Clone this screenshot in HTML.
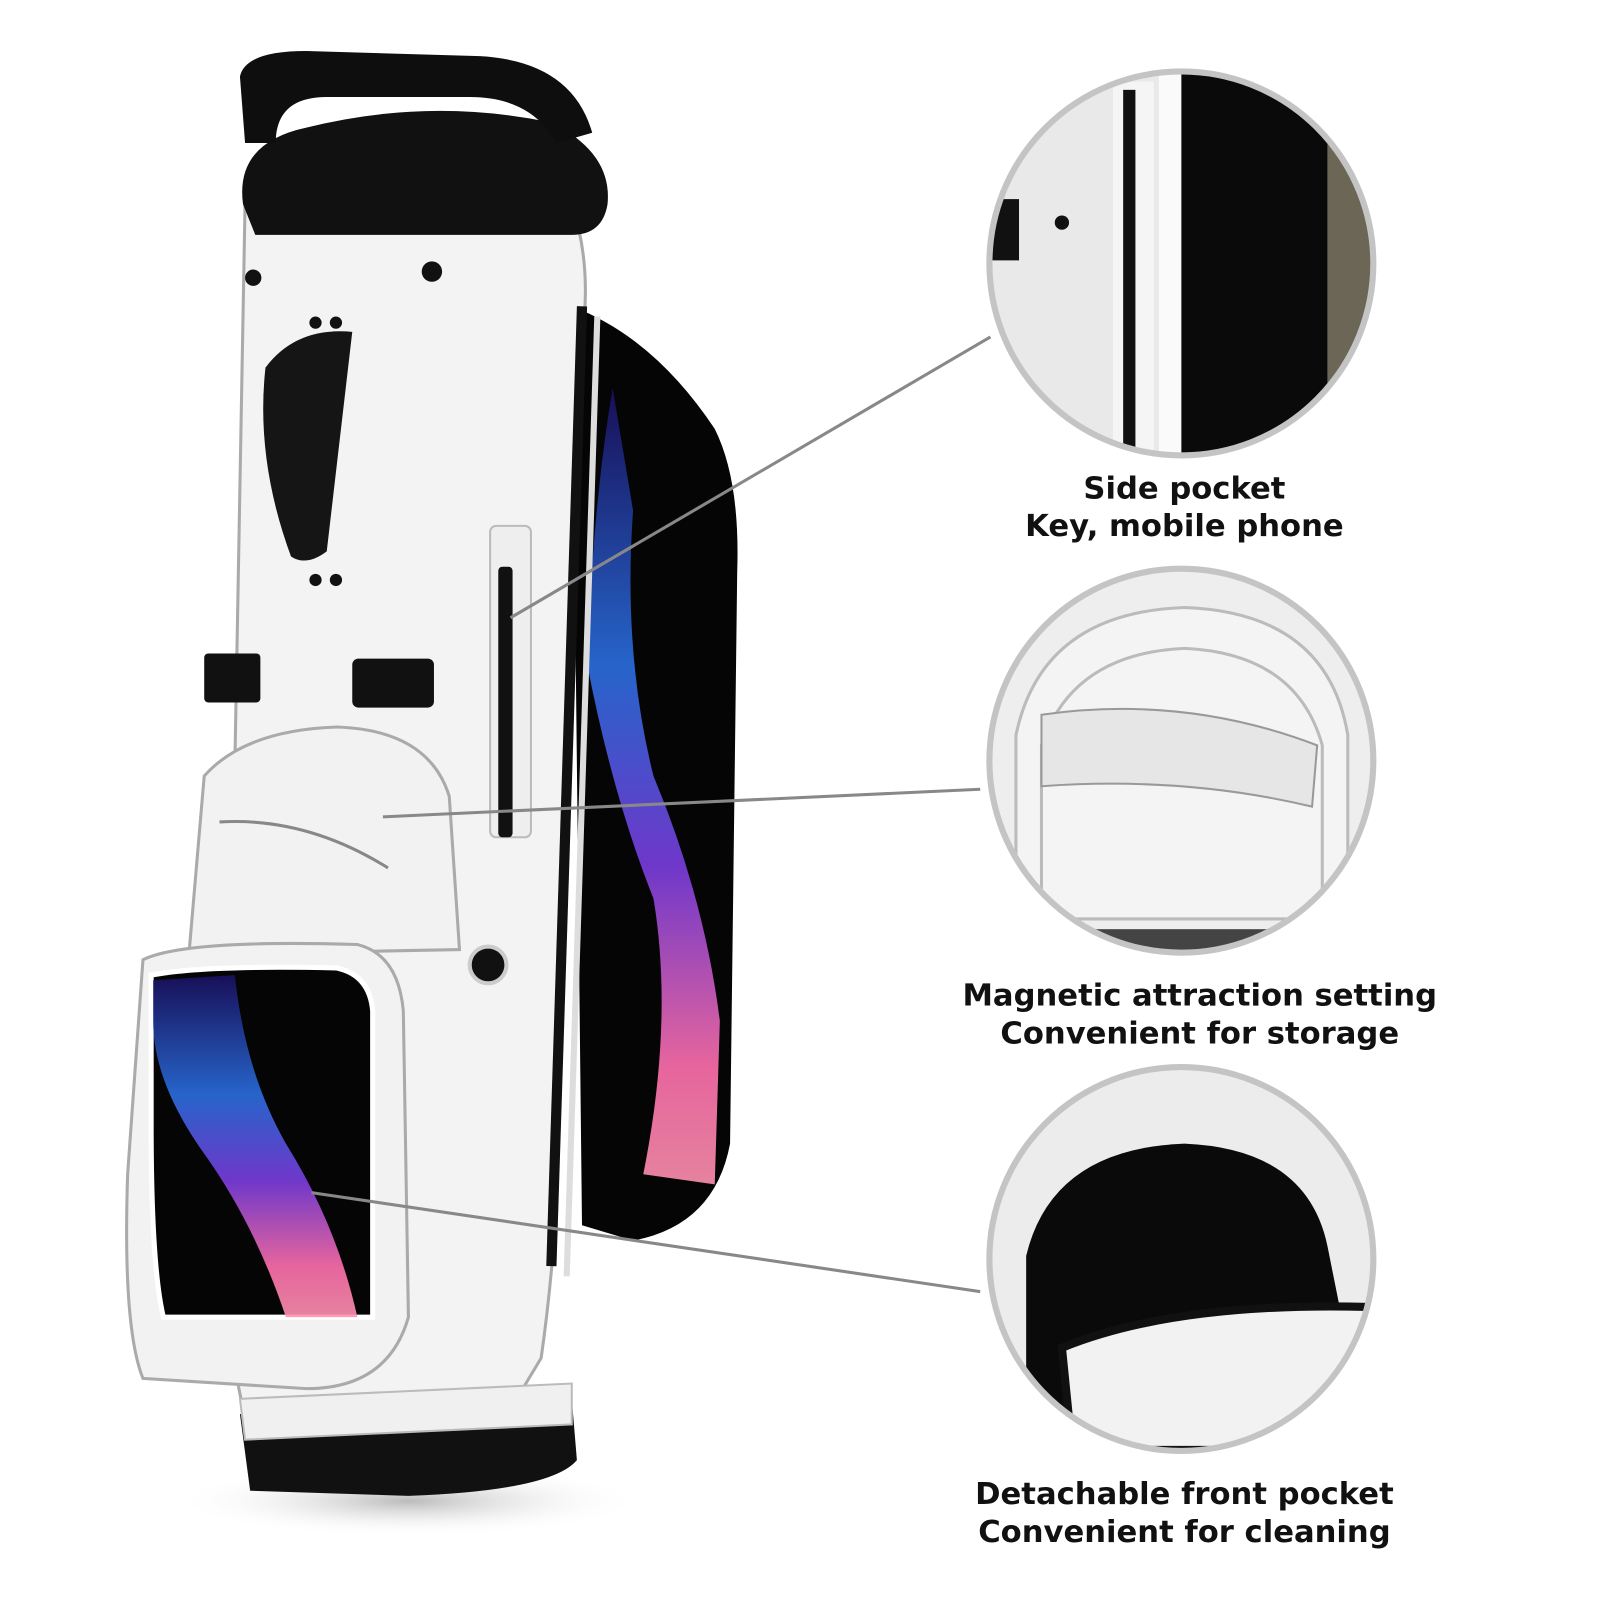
<!DOCTYPE html>
<html><head><meta charset="utf-8"><style>
html,body{margin:0;padding:0;background:#fff;}
svg{display:block}
text{font-family:"DejaVu Sans","Liberation Sans",sans-serif;font-weight:bold;font-size:30px;fill:#111;text-anchor:middle}
</style></head><body>
<svg width="1600" height="1600" viewBox="0 0 1567 1567" xmlns="http://www.w3.org/2000/svg">
<defs>
<linearGradient id="gal" x1="0" y1="0" x2="0" y2="1">
<stop offset="0" stop-color="#1a1060"/><stop offset="0.35" stop-color="#2a6fe0"/><stop offset="0.6" stop-color="#7a3de0"/><stop offset="0.85" stop-color="#ff6fae"/><stop offset="1" stop-color="#ff90b0"/></linearGradient>
<radialGradient id="shadow" cx="0.5" cy="0.5" r="0.5"><stop offset="0" stop-color="#bbb"/><stop offset="1" stop-color="#fff" stop-opacity="0"/></radialGradient>
<clipPath id="c1"><circle cx="1157" cy="258" r="188"/></clipPath>
<clipPath id="c2"><circle cx="1157" cy="745" r="188"/></clipPath>
<clipPath id="c3"><circle cx="1157" cy="1233" r="188"/></clipPath>
</defs>
<ellipse cx="400" cy="1470" rx="230" ry="35" fill="url(#shadow)"/>
<path d="M560 300 Q640 330 700 420 Q725 470 722 560 L715 1120 Q700 1200 620 1215 L570 1200 Z" fill="#050505"/>
<path d="M600 380 Q580 500 575 650 Q600 780 640 880 Q660 1000 630 1150 L700 1160 L705 1000 Q690 880 640 760 Q610 640 620 500 Z" fill="url(#gal)" opacity="0.9"/>
<path d="M240 200 L560 200 Q580 260 570 330 L545 1180 Q540 1260 530 1330 L500 1380 L240 1390 L230 1340 L200 1000 Q215 900 230 750 Z" fill="#f3f3f3" stroke="#aaa" stroke-width="3"/>
<path d="M570 300 L540 1240" stroke="#111" stroke-width="10" fill="none"/>
<path d="M585 310 L555 1250" stroke="#ddd" stroke-width="6" fill="none"/>
<path d="M238 200 Q230 140 300 125 Q420 95 540 120 Q600 150 595 200 Q590 230 560 230 L250 230 Z" fill="#111"/>
<path d="M235 75 Q240 50 300 50 L470 55 Q560 60 580 130 L545 140 Q520 95 460 95 L320 95 Q270 95 270 140 L240 140 Z" fill="#0e0e0e"/>
<path d="M260 360 Q290 320 345 325 L320 540 Q300 555 285 545 Q250 450 260 360 Z" fill="#151515"/>
<circle cx="423" cy="266" r="10" fill="#111"/><circle cx="248" cy="272" r="8" fill="#111"/>
<circle cx="309" cy="316" r="6" fill="#111"/><circle cx="329" cy="316" r="6" fill="#111"/>
<circle cx="309" cy="568" r="6" fill="#111"/><circle cx="329" cy="568" r="6" fill="#111"/>
<rect x="200" y="640" width="55" height="48" rx="4" fill="#111"/>
<rect x="345" y="645" width="80" height="48" rx="6" fill="#111"/>
<rect x="480" y="515" width="40" height="305" rx="6" fill="#eee" stroke="#bbb" stroke-width="2"/>
<rect x="488" y="555" width="14" height="265" rx="4" fill="#111"/>
<circle cx="478" cy="945" r="18" fill="#111" stroke="#ccc" stroke-width="4"/>
<path d="M200 760 Q240 715 330 712 Q420 715 440 780 L450 930 L185 935 Z" fill="#f2f2f2" stroke="#aaa" stroke-width="3"/>
<path d="M215 805 Q300 800 380 850" stroke="#888" stroke-width="3" fill="none"/>
<path d="M140 940 Q180 920 350 925 Q390 935 395 990 L400 1290 Q380 1360 300 1360 L140 1350 Q120 1300 125 1150 Z" fill="#f2f2f2" stroke="#aaa" stroke-width="3"/>
<path d="M148 955 Q200 945 330 948 Q362 955 365 990 L365 1290 L160 1290 Q148 1240 148 1100 Z" fill="#050505" stroke="#fff" stroke-width="5"/>
<path d="M150 960 L230 955 Q240 1050 280 1120 Q330 1200 350 1290 L280 1290 Q250 1200 200 1130 Q150 1060 150 1000 Z" fill="url(#gal)" opacity="0.9"/>
<path d="M235 1385 L560 1370 L565 1430 Q540 1460 400 1465 L245 1460 Z" fill="#111"/>
<path d="M235 1370 L560 1355 L560 1395 L240 1410 Z" fill="#f0f0f0" stroke="#bbb" stroke-width="2"/>
<g stroke="#888" stroke-width="3">
<line x1="970" y1="330" x2="500" y2="605"/>
<line x1="960" y1="773" x2="375" y2="800"/>
<line x1="960" y1="1265" x2="305" y2="1168"/>
</g>
<g clip-path="url(#c1)">
<rect x="960" y="60" width="400" height="400" fill="#e9e9e9"/>
<rect x="1150" y="60" width="200" height="400" fill="#0a0a0a"/>
<rect x="1300" y="60" width="60" height="400" fill="#6b6656"/>
<rect x="1090" y="80" width="40" height="380" fill="#f5f5f5"/>
<rect x="1100" y="88" width="12" height="360" fill="#111"/>
<rect x="1135" y="70" width="22" height="390" fill="#fafafa"/>
<rect x="968" y="195" width="30" height="60" fill="#111"/>
<circle cx="1040" cy="218" r="7" fill="#111"/>
</g>
<circle cx="1157" cy="258" r="188" fill="none" stroke="#c4c4c4" stroke-width="6"/>
<g clip-path="url(#c2)">
<rect x="960" y="550" width="400" height="400" fill="#eeeeee"/>
<path d="M995 900 L995 720 Q1020 600 1160 595 Q1300 600 1320 720 L1320 900 Z" fill="#f4f4f4" stroke="#bbb" stroke-width="3"/>
<path d="M1020 900 L1020 730 Q1050 640 1160 635 Q1270 640 1295 730 L1295 900" fill="none" stroke="#bbb" stroke-width="3"/>
<path d="M1020 700 Q1160 680 1290 730 L1285 790 Q1160 760 1020 770 Z" fill="#e6e6e6" stroke="#999" stroke-width="2"/>
<rect x="1010" y="910" width="300" height="30" fill="#444"/>
</g>
<circle cx="1157" cy="745" r="188" fill="none" stroke="#c4c4c4" stroke-width="6"/>
<g clip-path="url(#c3)">
<rect x="960" y="1040" width="400" height="400" fill="#ececec"/>
<path d="M1005 1420 L1005 1230 Q1030 1125 1160 1120 Q1280 1125 1300 1220 L1340 1420 Z" fill="#0a0a0a"/>
<path d="M1040 1320 Q1150 1275 1340 1280 L1340 1420 L1050 1420 Z" fill="#f2f2f2" stroke="#111" stroke-width="8"/>
</g>
<circle cx="1157" cy="1233" r="188" fill="none" stroke="#c4c4c4" stroke-width="6"/>
<text x="1160" y="488">Side pocket</text>
<text x="1160" y="525">Key, mobile phone</text>
<text x="1175" y="985">Magnetic attraction setting</text>
<text x="1175" y="1022">Convenient for storage</text>
<text x="1160" y="1473">Detachable front pocket</text>
<text x="1160" y="1510">Convenient for cleaning</text>
</svg>
</body></html>
